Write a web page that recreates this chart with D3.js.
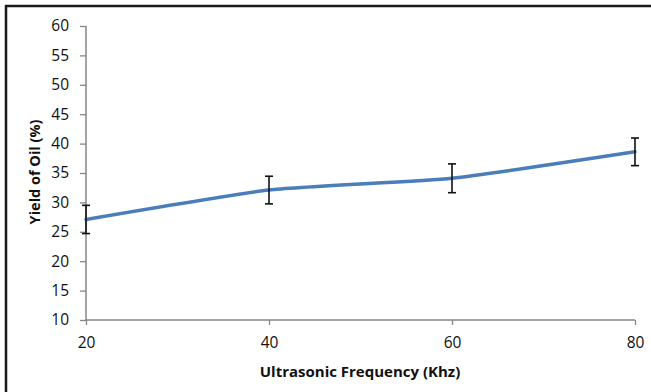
<!DOCTYPE html>
<html>
<head>
<meta charset="utf-8">
<script src="https://cdn.jsdelivr.net/npm/d3@7"></script>
<style>
  body { margin: 0; background: #fff; }
  svg { display: block; font-family: "Open Sans", sans-serif; }
</style>
</head>
<body>
<svg id="chart" width="651" height="392"></svg>
<script>
// values
const frequency = [20, 40, 60, 80];
const yieldOil = [27.1, 32.1, 34.1, 38.6];
const errorBar = [2.4, 2.35, 2.45, 2.35];
const xTicks = [20, 40, 60, 80];
const yTicks = [10, 15, 20, 25, 30, 35, 40, 45, 50, 55, 60];

const svg = d3.select('#chart');

// outer frame (cut off on right/bottom like the source)
svg.append('rect')
  .attr('x', 6).attr('y', 6)
  .attr('width', 700).attr('height', 450)
  .attr('fill', 'none')
  .attr('stroke', '#1a1a1a')
  .attr('stroke-width', 2.5);

const x = d3.scaleLinear().domain([20, 80]).range([86, 635]);
const y = d3.scaleLinear().domain([10, 60]).range([320, 26]);

const axisColor = '#868686';

// y axis
const yAxis = svg.append('g')
  .attr('transform', 'translate(86,0)')
  .call(d3.axisLeft(y).tickValues(yTicks).tickSize(6).tickPadding(11));
// x axis
const xAxis = svg.append('g')
  .attr('transform', 'translate(0,320)')
  .call(d3.axisBottom(x).tickValues(xTicks).tickSize(5).tickPadding(12));

[yAxis, xAxis].forEach(g => {
  g.select('.domain').attr('stroke', axisColor).attr('stroke-width', 1.5);
  g.selectAll('.tick line').attr('stroke', axisColor).attr('stroke-width', 1.3);
  g.selectAll('.tick text')
    .attr('fill', '#111')
    .style('font-size', '15.5px')
    .style('font-family', '"Open Sans", sans-serif');
});
yAxis.select('.domain').attr('d', 'M0,' + y(60) + 'V' + y(10));
xAxis.select('.domain').attr('d', 'M' + x(20) + ',0H' + x(80));

// line (Excel-like light smoothing)
const line = d3.line()
  .x((d, i) => x(frequency[i]))
  .y(d => y(d))
  .curve(d3.curveCardinal.tension(0.5));

svg.append('path')
  .datum(yieldOil)
  .attr('d', line)
  .attr('fill', 'none')
  .attr('stroke', '#4a7ebb')
  .attr('stroke-width', 3.5)
  .attr('stroke-linecap', 'round');

// error bars
const cap = 4;
const bars = svg.append('g')
  .attr('stroke', '#111')
  .attr('stroke-width', 1.6)
  .selectAll('g')
  .data(frequency)
  .enter().append('g');

bars.append('line')
  .attr('x1', d => x(d)).attr('x2', d => x(d))
  .attr('y1', (d, i) => y(yieldOil[i] + errorBar[i]))
  .attr('y2', (d, i) => y(yieldOil[i] - errorBar[i]));
bars.append('line')
  .attr('x1', d => x(d) - cap).attr('x2', d => x(d) + cap)
  .attr('y1', (d, i) => y(yieldOil[i] + errorBar[i]))
  .attr('y2', (d, i) => y(yieldOil[i] + errorBar[i]));
bars.append('line')
  .attr('x1', d => x(d) - cap).attr('x2', d => x(d) + cap)
  .attr('y1', (d, i) => y(yieldOil[i] - errorBar[i]))
  .attr('y2', (d, i) => y(yieldOil[i] - errorBar[i]));

// axis titles
svg.append('text')
  .attr('x', 360).attr('y', 377)
  .attr('text-anchor', 'middle')
  .style('font-size', '15px')
  .style('font-weight', 'bold')
  .attr('fill', '#111')
  .text('Ultrasonic Frequency (Khz)');

svg.append('text')
  .attr('transform', 'translate(40,172) rotate(-90)')
  .attr('text-anchor', 'middle')
  .style('font-size', '14.5px')
  .style('font-weight', 'bold')
  .attr('fill', '#111')
  .text('Yield of Oil (%)');
</script>
</body>
</html>
